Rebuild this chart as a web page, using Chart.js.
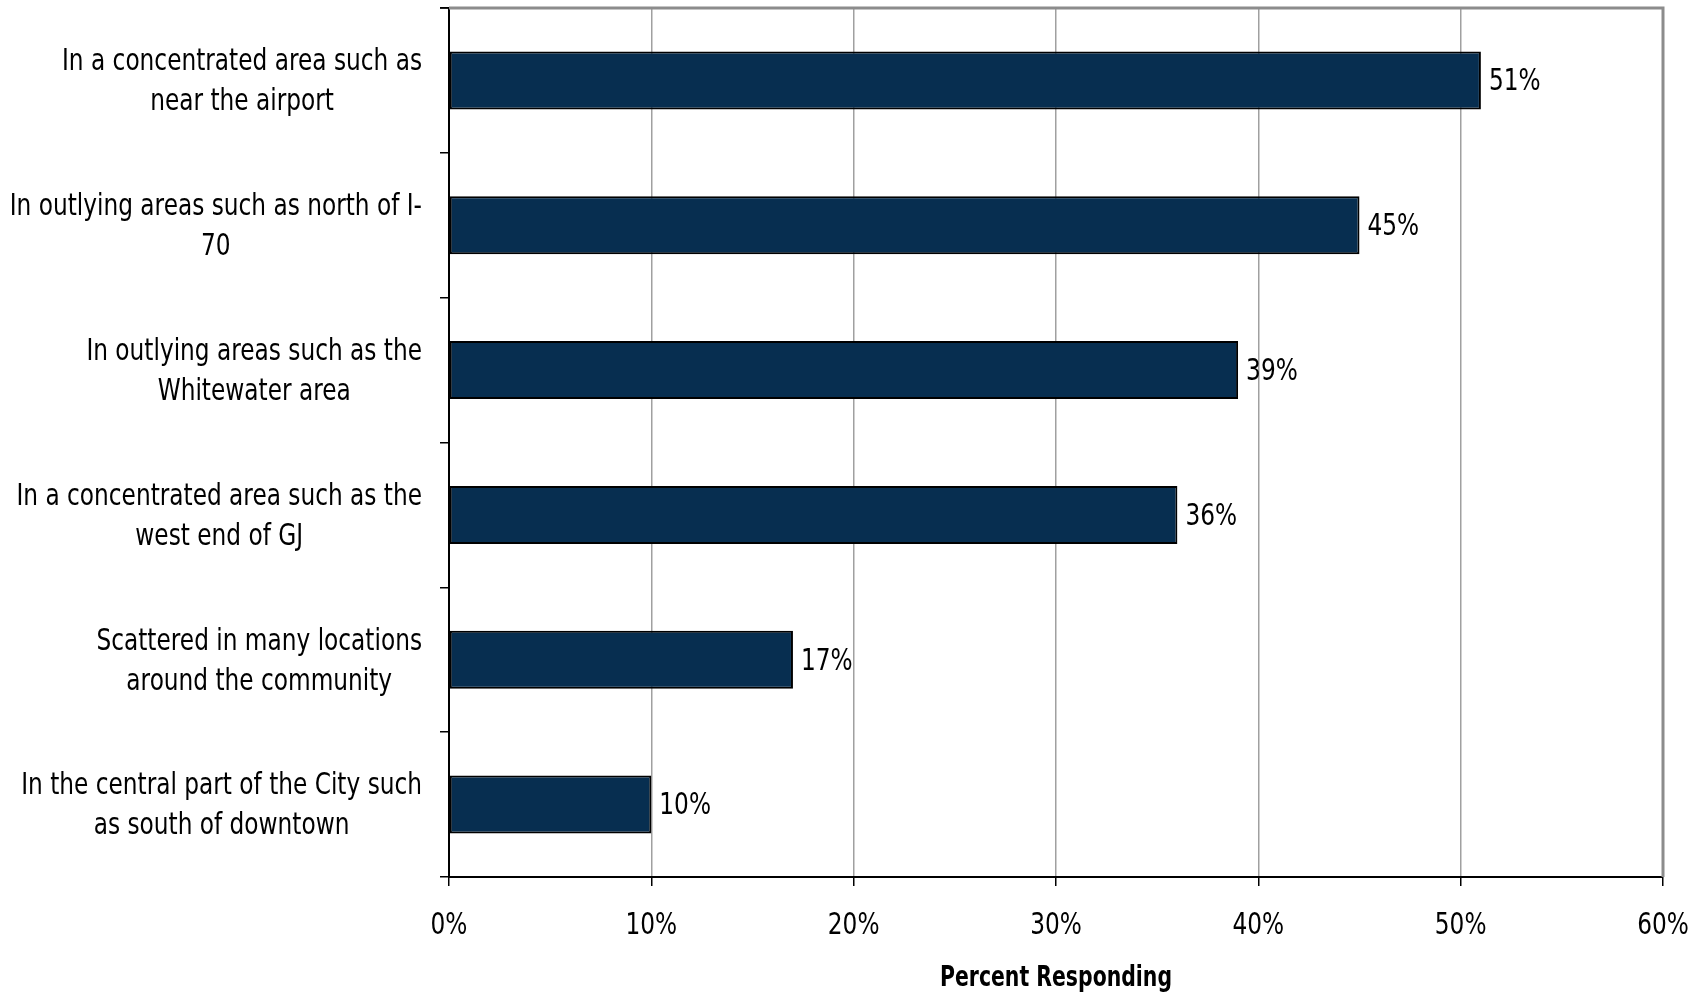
<!DOCTYPE html>
<html>
<head>
<meta charset="utf-8">
<script src="https://cdn.jsdelivr.net/npm/chart.js@4.4.0/dist/chart.umd.min.js"></script>
<style>
html,body{margin:0;padding:0;background:#fff;}
#wrap{width:1707px;height:995px;}
</style>
</head>
<body>
<div id="wrap"><canvas id="c" width="1707" height="995"></canvas></div>
<script>
const categories = [
  ["In a concentrated area such as", "near the airport"],
  ["In outlying areas such as north of I-", "70"],
  ["In outlying areas such as the", "Whitewater area"],
  ["In a concentrated area such as the", "west end of GJ"],
  ["Scattered in many locations", "around the community"],
  ["In the central part of the City such", "as south of downtown"]
];
const percentValues = [51, 45, 39, 36, 17, 10];
const xTickValues = [0, 10, 20, 30, 40, 50, 60];
const axisTitle = "Percent Responding";

const FONT = "'DejaVu Sans', Verdana, sans-serif";

function drawScaled(ctx, text, x, y, align, sx) {
  ctx.save();
  ctx.translate(x, y);
  ctx.scale(sx, 1);
  ctx.textAlign = align;
  ctx.fillText(text, 0, 0);
  ctx.restore();
}

function labelScale(ctx) {
  ctx.save();
  ctx.font = "30px " + FONT;
  const w = ctx.measureText("In a concentrated area such as").width;
  ctx.restore();
  return 360 / w;
}

const textPlugin = {
  id: 'texts',
  afterDraw(chart) {
    const ctx = chart.ctx;
    const y = chart.scales.y;
    const x = chart.scales.x;
    const SX = labelScale(ctx);
    ctx.save();
    ctx.fillStyle = '#000';
    ctx.textBaseline = 'middle';
    ctx.font = "30px " + FONT;
    const rightX = chart.chartArea.left - 27;
    const lh = 40;
    categories.forEach((lines, i) => {
      const cy = y.getPixelForTick(i) + 2;
      const w = Math.max(...lines.map(l => ctx.measureText(l).width)) * SX;
      const cx = rightX - w / 2;
      lines.forEach((l, j) => {
        drawScaled(ctx, l, cx, cy + (j - (lines.length - 1) / 2) * lh, 'center', SX);
      });
    });
    const tickY = chart.chartArea.bottom + 49;
    x.ticks.forEach((t, i) => {
      drawScaled(ctx, t.value + '%', x.getPixelForTick(i), tickY, 'center', SX);
    });
    ctx.font = "bold 28px " + FONT;
    const tw = ctx.measureText(axisTitle).width;
    drawScaled(ctx, axisTitle, (chart.chartArea.left + chart.chartArea.right) / 2, chart.chartArea.bottom + 102, 'center', 232 / tw);
    ctx.restore();
  },
  afterDatasetsDraw(chart) {
    const ctx = chart.ctx;
    const SX = labelScale(ctx);
    const meta = chart.getDatasetMeta(0);
    ctx.save();
    ctx.font = "30px " + FONT;
    ctx.fillStyle = '#000';
    ctx.textBaseline = 'middle';
    meta.data.forEach((bar, i) => {
      drawScaled(ctx, percentValues[i] + '%', bar.x + 8, bar.y + 2, 'left', SX);
    });
    ctx.restore();
  }
};

const framePlugin = {
  id: 'frame',
  afterDatasetsDraw(chart) {
    const {ctx, chartArea: a} = chart;
    ctx.save();
    ctx.strokeStyle = '#8c8c8c';
    ctx.lineWidth = 3;
    ctx.beginPath();
    ctx.moveTo(a.left, a.top);
    ctx.lineTo(a.right, a.top);
    ctx.lineTo(a.right, a.bottom);
    ctx.stroke();
    ctx.strokeStyle = '#000';
    ctx.lineWidth = 1.5;
    ctx.beginPath();
    ctx.moveTo(a.left - 9, a.top);
    ctx.lineTo(a.left, a.top);
    ctx.stroke();
    ctx.restore();
  }
};

new Chart(document.getElementById('c'), {
  type: 'bar',
  data: {
    labels: categories,
    datasets: [{
      data: percentValues,
      backgroundColor: '#072E50',
      borderColor: '#000',
      borderWidth: 2,
      borderSkipped: false,
      categoryPercentage: 0.4,
      barPercentage: 1.0
    }]
  },
  options: {
    indexAxis: 'y',
    responsive: false,
    devicePixelRatio: 1,
    animation: false,
    layout: { padding: { left: 440, right: 44, top: 8, bottom: 0 } },
    plugins: { legend: { display: false }, tooltip: { enabled: false } },
    scales: {
      x: {
        min: 0, max: 60,
        afterBuildTicks(scale) { scale.ticks = xTickValues.map(v => ({ value: v })); },
        afterFit(scale) { scale.height = 118; scale.paddingLeft = 0; scale.paddingRight = 0; },
        ticks: { display: false },
        grid: {
          color: '#a0a0a0',
          lineWidth: 1.5,
          tickColor: '#000',
          tickLength: 9
        },
        border: { color: '#000', width: 2 }
      },
      y: {
        afterFit(scale) { scale.width = 9; scale.paddingTop = 0; scale.paddingBottom = 0; },
        ticks: { display: false },
        grid: {
          offset: true,
          drawOnChartArea: false,
          color: '#000',
          tickLength: 9,
          lineWidth: 1.5
        },
        border: { color: '#000', width: 2 }
      }
    }
  },
  plugins: [textPlugin, framePlugin]
});
</script>
</body>
</html>
